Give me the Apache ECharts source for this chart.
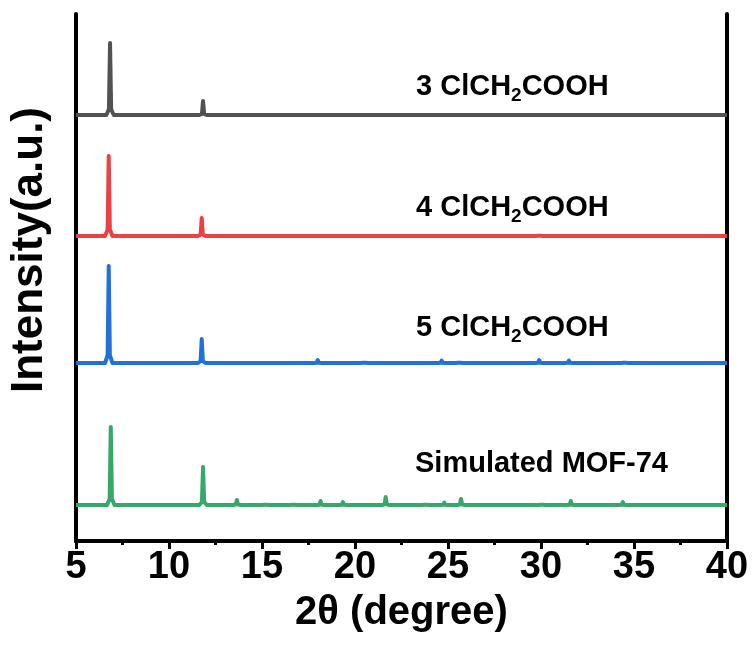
<!DOCTYPE html>
<html lang="en">
<head>
    <meta charset="UTF-8">
    <script src="https://cdn.jsdelivr.net/npm/echarts@6/dist/echarts.min.js"></script>
    <title>XRD MOF-74</title>
    <style type="text/css">
    body { margin: 0; }
    .xrd {
        width: 756px;
        height: 652px;
    }
    </style>
</head>
<body>
    <div id="xrd" class="xrd"></div>
<script type="text/javascript">
// 2θ tick labels
var xTicks = [5, 10, 15, 20, 25, 30, 35, 40]

// peaks: [2θ, height above baseline]
var peaksSim = [[6.87, 78], [11.83, 38], [13.65, 5], [15.2, 2], [16.7, 2], [18.15, 4], [19.35, 3],
    [21.65, 8], [23.8, 2], [24.8, 2.5], [25.7, 6], [27.5, 1.5], [30.05, 2], [31.6, 4],
    [34.4, 3], [35.5, 1.5], [36.6, 1.5], [37.6, 1.5], [38.6, 1.5]]
var peaks5 = [[6.76, 97], [11.76, 24], [15.2, 1.5], [18.0, 3], [20.5, 2], [21.6, 1.5],
    [24.66, 2.5], [25.6, 2], [27.4, 1.5], [29.9, 3], [31.5, 2.5], [34.5, 2]]
var peaks4 = [[6.76, 80], [11.76, 18], [18.0, 1.5], [20.5, 1], [24.66, 1.5], [25.6, 1],
    [27.4, 1], [29.9, 2], [31.5, 1.5], [34.5, 1]]
var peaks3 = [[6.83, 72], [11.83, 14], [16.7, 1], [18.1, 1], [24.7, 1], [25.6, 1],
    [29.9, 1], [31.5, 1]]

var seriesNames = ['Simulated MOF-74', '5 ClCH2COOH', '4 ClCH2COOH', '3 ClCH2COOH']

// turn a peak list into a line: flat baseline with a narrow spike per peak
function pattern(peaks, base) {
    var pts = [[5, base]]
    peaks.forEach(function (p) {
        pts.push([p[0] - 0.2, base])
        pts.push([p[0] - 0.06, base + p[1] * 0.08])
        pts.push([p[0], base + p[1]])
        pts.push([p[0] + 0.06, base + p[1] * 0.08])
        pts.push([p[0] + 0.2, base])
    })
    pts.push([40, base])
    return pts
}

var myChart = echarts.init(document.getElementById('xrd'))

function line(name, peaks, base, color) {
    return {
        name: name,
        type: 'line',
        data: pattern(peaks, base),
        showSymbol: false,
        silent: true,
        lineStyle: { color: color, width: 4, join: 'round' }
    }
}

function label(pre, y) {
    return {
        type: 'text',
        x: 416,
        y: y,
        style: {
            text: '{n|' + pre + ' ClCH}{s|2}{n|COOH}',
            textVerticalAlign: 'middle',
            rich: {
                n: { fontSize: 29, fontWeight: 'bold', fontFamily: 'Liberation Sans', fill: '#000', lineHeight: 28, verticalAlign: 'top' },
                s: { fontSize: 19, fontWeight: 'bold', fontFamily: 'Liberation Sans', fill: '#000', lineHeight: 48 }
            }
        }
    }
}

var option = {
    backgroundColor: '#fff',
    animation: false,
    grid: { left: 76, right: 29, top: 14, bottom: 111 },
    xAxis: [{
        type: 'value',
        min: 5,
        max: 40,
        interval: 5,
        name: '2θ (degree)',
        nameLocation: 'middle',
        nameGap: 52,
        nameTextStyle: { fontSize: 40, fontWeight: 'bold', fontFamily: 'Liberation Sans', color: '#000' },
        axisLine: { lineStyle: { color: '#000', width: 4 } },
        axisTick: { inside: false, length: 8, lineStyle: { width: 3, color: '#000' } },
        minorTick: { show: true, splitNumber: 2, length: 4, lineStyle: { width: 3, color: '#000' } },
        axisLabel: {
            fontSize: 38, fontWeight: 'bold', fontFamily: 'Liberation Sans', color: '#000', margin: 8,
            formatter: function (v) { return xTicks.indexOf(v) >= 0 ? String(v) : '' }
        },
        splitLine: { show: false }
    }, {
        type: 'value', position: 'top', min: 5, max: 40,
        axisLine: { lineStyle: { color: '#000', width: 4 } },
        axisTick: { show: false }, axisLabel: { show: false }, splitLine: { show: false }
    }],
    yAxis: [{
        type: 'value', min: 0, max: 527,
        axisLine: { show: true, lineStyle: { color: '#000', width: 4 } },
        axisTick: { show: false }, axisLabel: { show: false }, splitLine: { show: false }
    }, {
        type: 'value', position: 'right', min: 0, max: 527,
        axisLine: { show: true, lineStyle: { color: '#000', width: 4 } },
        axisTick: { show: false }, axisLabel: { show: false }, splitLine: { show: false }
    }],
    series: [
        line(seriesNames[0], peaksSim, 36, '#37a86a'),
        line(seriesNames[1], peaks5, 178, '#2270db'),
        line(seriesNames[2], peaks4, 305, '#ea4244'),
        line(seriesNames[3], peaks3, 426, '#525252')
    ],
    graphic: [
        label('3', 96),
        label('4', 217),
        label('5', 337),
        {
            type: 'text', x: 415, y: 464,
            style: { text: 'Simulated MOF-74', fontSize: 29, fontWeight: 'bold', fontFamily: 'Liberation Sans', fill: '#000', textVerticalAlign: 'middle' }
        },
        {
            type: 'text', x: 30, y: 250, rotation: Math.PI / 2,
            style: { text: 'Intensity(a.u.)', fontSize: 44, fontWeight: 'bold', fontFamily: 'Liberation Sans', fill: '#000', textAlign: 'center', textVerticalAlign: 'middle' }
        }
    ]
}
myChart.setOption(option)
</script>
</body>
</html>
